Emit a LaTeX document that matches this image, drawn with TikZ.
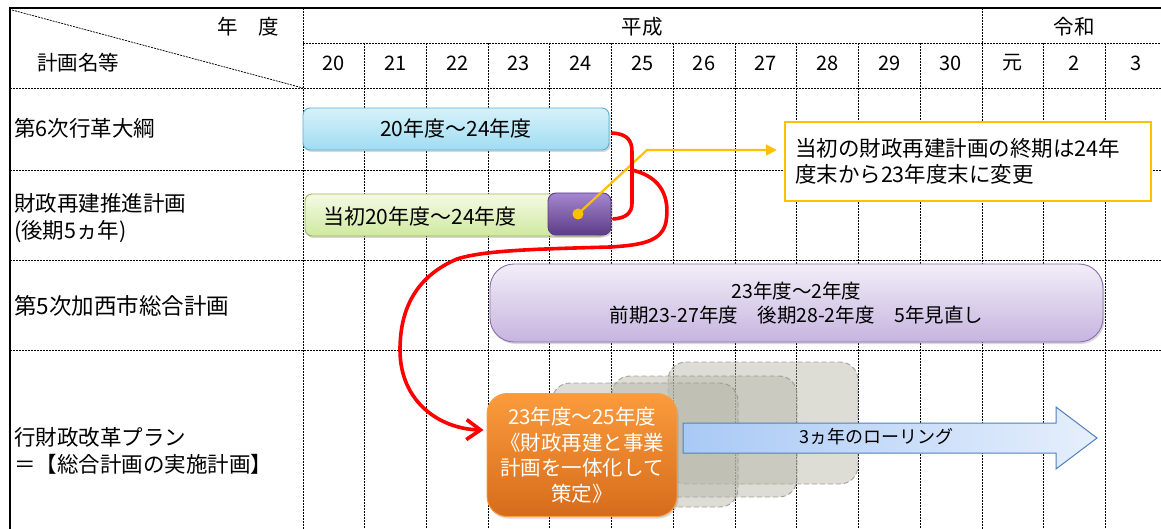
\documentclass[tikz,border=0pt]{standalone}
\usepackage{fontspec}
\setmainfont{Noto Sans CJK JP}
\usetikzlibrary{arrows.meta,shadows}
\definecolor{gridc}{HTML}{000000}
\definecolor{blueT}{HTML}{D6F2FB}
\definecolor{blueB}{HTML}{A0DCF2}
\definecolor{blueD}{HTML}{5AAED0}
\definecolor{greenT}{HTML}{F5FAE4}
\definecolor{greenB}{HTML}{CFE9A0}
\definecolor{greenD}{HTML}{98B954}
\definecolor{dpurT}{HTML}{A487CE}
\definecolor{dpurB}{HTML}{5C3C87}
\definecolor{lavT}{HTML}{F2EEF8}
\definecolor{lavB}{HTML}{C6B4DF}
\definecolor{lavD}{HTML}{8A70B0}
\definecolor{orT}{HTML}{FB9B3D}
\definecolor{orB}{HTML}{D66C1B}
\definecolor{orD}{HTML}{F7A048}
\definecolor{arL}{HTML}{A9C9F5}
\definecolor{arR}{HTML}{E6EFFC}
\definecolor{arD}{HTML}{4F81BD}
\definecolor{ghostF}{HTML}{B5B5A6}
\definecolor{ghostD}{HTML}{8E8E86}
\definecolor{noteD}{HTML}{FFC000}
\definecolor{redc}{HTML}{FF0000}
\newcommand{\fsz}[2]{\fontsize{#1}{#2}\selectfont}
\tikzset{
  gridline/.style={draw=gridc, line width=0.75pt, dash pattern=on 2pt off 1pt},
  border/.style={draw=black, line width=2.4pt},
  lbl/.style={anchor=west, inner sep=0pt, font=\fsz{21.5}{27.5}, align=left},
  hdr/.style={inner sep=0pt, font=\fsz{20.5}{22}},
  bar/.style={draw, rounded corners=7pt, inner sep=0pt, line width=0.9pt,
    drop shadow={opacity=0.3, shadow xshift=1.5pt, shadow yshift=-2pt}},
  ghost/.style={fill=ghostF, fill opacity=0.45, draw=ghostD, draw opacity=0.8,
    dash pattern=on 5pt off 3pt, line width=0.9pt, rounded corners=18pt},
  rline/.style={draw=redc, line width=3.6pt, line cap=round, line join=round},
  yline/.style={draw=noteD, line width=2.2pt},
}
\begin{document}
\begin{tikzpicture}[x=1pt,y=-1pt]
\useasboundingbox (0,0) rectangle (1161,529);
\fill[white] (0,0) rectangle (1161,529);

% ---------- grid ----------
\draw[gridline] (303,43) -- (1161,43);
\foreach \yy in {88,170,260,350} \draw[gridline] (10,\yy) -- (1161,\yy);
\draw[gridline] (303,8) -- (303,529);
\draw[gridline] (982,8) -- (982,529);
\foreach \i in {1,...,10,12,13} \draw[gridline] ({303+61.7*\i},43) -- ({303+61.7*\i},529);
\draw[gridline] (12,10) -- (303,88);
\draw[border] (8.8,8) -- (1161,8);
\draw[border] (10,6.8) -- (10,529);

% ---------- header ----------
\node[hdr] (hnendo) at (248,27) {年　度};
\node[hdr, anchor=west] (hkeikaku) at (37,63) {計画名等};
\node[hdr] (heisei) at (642,27) {平成};
\node[hdr] (reiwa) at (1074,27) {令和};
\foreach \t [count=\k from 0] in {20,21,22,23,24,25,26,27,28,29,30,元,2,3}
  \node[hdr, font=\fsz{20}{22}] (y\k) at ({303+61.7*(\k+0.5)},63) {\t};

% ---------- row labels ----------
\node[lbl] (l1) at (14,128) {第6次行革大綱};
\node[lbl] (l2) at (14,218) {財政再建推進計画\\(後期5ヵ年)};
\node[lbl, font=\fsz{22.5}{27}] (l3) at (14,306) {第5次加西市総合計画};
\node[lbl] (l4) at (14,451) {行財政改革プラン\\＝【総合計画の実施計画】};

% ---------- bars ----------
\node[bar, draw=blueD, top color=blueT, bottom color=blueB,
  minimum width=306pt, minimum height=42pt, font=\fsz{21}{22}] (b6) at (456,129) {20年度～24年度};
\node[bar, draw=greenD, top color=greenT, bottom color=greenB,
  minimum width=300pt, minimum height=42pt] (zs) at (455,215) {};
\node[font=\fsz{21}{22}, inner sep=0pt] (zstext) at (420,216) {当初20年度～24年度};
\node[bar, draw=dpurB, top color=dpurT, bottom color=dpurB, rounded corners=8pt,
  minimum width=63pt, minimum height=42pt] (zsx) at (579.5,214) {};
\node[bar, draw=lavD, top color=lavT, bottom color=lavB, rounded corners=24pt,
  minimum width=613pt, minimum height=78pt, align=center, font=\fsz{19.5}{24}] (s5) at (796.5,303)
  {23年度～2年度\\前期23-27年度　後期28-2年度　5年見直し};

% ghost boxes
\draw[ghost] (668,362) rectangle (858,484);
\draw[ghost] (612,376) rectangle (797,497);
\draw[ghost] (552,383) rectangle (738,507);

% orange plan box
\node[bar, draw=orD, top color=orT, bottom color=orB, rounded corners=20pt,
  minimum width=190pt, minimum height=123pt, align=center, text=white,
  font=\fsz{20.5}{25.5}] (plan) at (582,455)
  {23年度～25年度\\《財政再建と事業\\計画を一体化して\\策定》};

% rolling arrow
\path[draw=arD, line width=1pt, left color=arL, right color=arR, line join=miter]
  (683,423) -- (1056,423) -- (1056,407) -- (1097,438) -- (1056,469) -- (1056,453) -- (683,453) -- cycle;
\node[font=\fsz{18}{22}, inner sep=0pt] (roll) at (876,437) {3ヵ年のローリング};

% ---------- callout ----------
\node[draw=noteD, line width=2.4pt, fill=white, minimum width=366pt, minimum height=79pt,
  text width=346pt, align=left, font=\fsz{21.5}{26}, inner sep=0pt] (note) at (968,161.5)
  {当初の財政再建計画の終期は24年\\度末から23年度末に変更};

% ---------- connectors ----------
\node[circle, fill=noteD, inner sep=0pt, minimum size=11pt] (dot) at (578,214) {};
\coordinate (yk) at (647,150);
\draw[yline, -{Triangle[length=11pt,width=11pt]}] (dot.center) -- (yk) -- ([xshift=-7pt]yk -| note.west);

\coordinate (bm) at (632,170);
\draw[rline] ([xshift=3pt,yshift=-4pt]b6.east) .. controls (627,134) and (632,140) .. (632,152)
  -- (632,203) .. controls (632,213) and (626,218) .. ([xshift=2pt,yshift=-5pt]zsx.east);
\draw[rline, -{Straight Barb[length=14pt,width=20pt]}] (bm)
  .. controls (662,177) and (670,198) .. (666,222)
  .. controls (662,240) and (646,245) .. (610,247)
  .. controls (540,249) and (485,250) .. (457,259)
  .. controls (415,277) and (400,310) .. (400,350)
  .. controls (400,402) and (440,429) .. ([xshift=-3pt]plan.west |- 0,430);
\end{tikzpicture}
\end{document}
